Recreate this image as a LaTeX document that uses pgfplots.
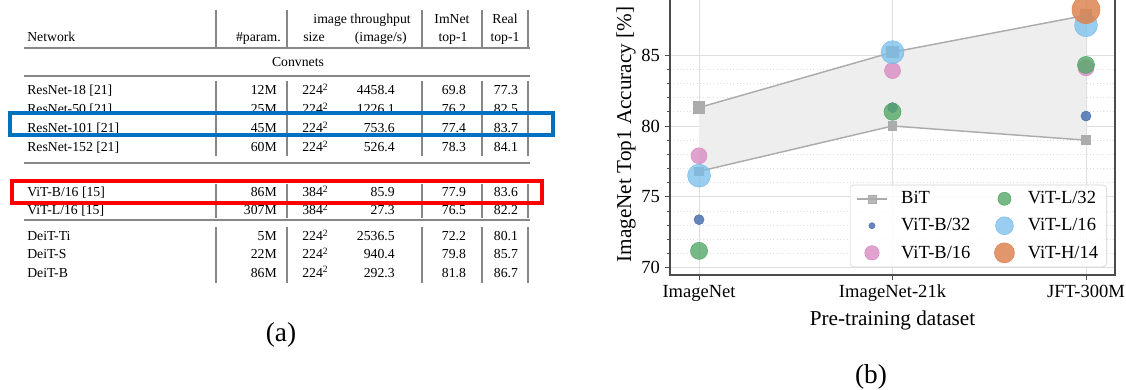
\documentclass[border=0pt]{standalone}
\usepackage{fontspec}
\setmainfont{Liberation Serif}
\usepackage{pgfplots}
\pgfplotsset{compat=1.18}

\definecolor{bitgray}{RGB}{172,172,172}
\definecolor{bitfill}{RGB}{238,238,238}
\definecolor{vitb32}{RGB}{76,114,176}
\definecolor{vitb16}{RGB}{218,139,195}
\definecolor{vitl32}{RGB}{85,168,104}
\definecolor{vitl16}{RGB}{120,190,235}
\definecolor{vith14}{RGB}{221,132,82}
\definecolor{rulegray}{RGB}{135,135,135}
\definecolor{boxblue}{RGB}{0,112,192}
\definecolor{boxred}{RGB}{255,0,0}

% legend symbol for the BiT range: a longer line with a square in the middle
\pgfplotsset{bitlegend/.style={legend image code/.code={%
  \draw[bitgray, line width=1.1pt, sharp corners] (-0.1cm,0cm) -- (0.7cm,0cm);
  \fill[bitgray, sharp corners] (0.3cm,0cm) ++(-3pt,-3pt) rectangle ++(6pt,6pt);}}}

% one body row of the comparison table
\newcommand\tabrow[7]{%
  \node[anchor=base west] at (27,#1) {#2};
  \node[anchor=base east] at (277,#1) {#3};
  \node[anchor=base west] at (302,#1) {#4\textsuperscript{2}};
  \node[anchor=base east] at (395,#1) {#5};
  \node[anchor=base] at (454,#1) {#6};
  \node[anchor=base] at (506,#1) {#7};}

\begin{document}
\begin{tikzpicture}[x=0.75pt,y=0.75pt]
\useasboundingbox (0,0) rectangle (1126,389);
\clip (0,0) rectangle (1126,389);

% ---------- (a) table, y counted downwards from the top edge ----------
\begin{scope}[yshift=291.75pt, y=-0.75pt,
  every node/.style={inner sep=0pt, font=\fontsize{10.3}{11.5}\selectfont}]
  % header
  \node[anchor=base east] at (411,24) {image throughput};
  \node[anchor=base] at (452,24) {ImNet};
  \node[anchor=base] at (505,24) {Real};
  \node[anchor=base west] at (27,42) {Network};
  \node[anchor=base east] at (281,42) {\#param.};
  \node[anchor=base] at (314,42) {size};
  \node[anchor=base east] at (407,42) {(image/s)};
  \node[anchor=base] at (453,42) {top-1};
  \node[anchor=base] at (505,42) {top-1};
  \node[anchor=base] at (298,67) {Convnets};
  % body
  \tabrow{95}{ResNet-18 [21]}{12M}{224}{4458.4}{69.8}{77.3}
  \tabrow{114}{ResNet-50 [21]}{25M}{224}{1226.1}{76.2}{82.5}
  \tabrow{133}{ResNet-101 [21]}{45M}{224}{753.6}{77.4}{83.7}
  \tabrow{152}{ResNet-152 [21]}{60M}{224}{526.4}{78.3}{84.1}
  \tabrow{197}{ViT-B/16 [15]}{86M}{384}{85.9}{77.9}{83.6}
  \tabrow{215}{ViT-L/16 [15]}{307M}{384}{27.3}{76.5}{82.2}
  \tabrow{241}{DeiT-Ti}{5M}{224}{2536.5}{72.2}{80.1}
  \tabrow{259}{DeiT-S}{22M}{224}{940.4}{79.8}{85.7}
  \tabrow{277}{DeiT-B}{86M}{224}{292.3}{81.8}{86.7}
  % rules
  \foreach \yy in {48,76,163,220}
    \draw[rulegray, line width=1.1pt] (24,\yy) -- (530,\yy);
  \foreach \xx in {216,287,422,482,528} {
    \draw[rulegray, line width=0.8pt] (\xx,10) -- (\xx,47);
    \draw[rulegray, line width=0.8pt] (\xx,81) -- (\xx,156);
    \draw[rulegray, line width=0.8pt] (\xx,184) -- (\xx,218);
    \draw[rulegray, line width=0.8pt] (\xx,227) -- (\xx,283);
  }
  % highlighted rows
  \draw[boxblue, line width=2.3pt] (10,113) rectangle (553,135);
  \draw[boxred, line width=2.6pt] (12,181) rectangle (542,203);
  \node[font=\fontsize{20.5}{22}\selectfont] at (281,335) {(a)};
  \node[font=\fontsize{20.5}{22}\selectfont] at (871,377) {(b)};
\end{scope}

% ---------- (b) accuracy versus pre-training dataset ----------
\begin{axis}[
  at={(502.5pt,85.5pt)}, anchor=south west,
  scale only axis, width=333.75pt, height=210.75pt,
  xmin=-0.15, xmax=2.15, ymin=69.5, ymax=89.3,
  xtick={0,1,2}, xticklabels={ImageNet,ImageNet-21k,JFT-300M},
  ytick={70,75,80,85}, minor y tick num=4,
  grid=both,
  major grid style={black!13, line width=0.7pt},
  minor grid style={black!13, line width=0.5pt, dotted},
  axis line style={black!70, line width=0.9pt},
  tick style={black!70, line width=0.7pt},
  tick align=outside, tick pos=left,
  major tick length=4pt, minor tick length=2.5pt,
  /pgf/number format/assume math mode=true,
  tick label style={font=\fontsize{13.9}{15}\selectfont},
  label style={font=\fontsize{15.9}{17}\selectfont},
  xlabel={Pre-training dataset},
  ylabel={ImageNet Top1 Accuracy [\%]},
  xlabel style={at={(axis description cs:0.5,-0.16)}, anchor=center},
  ylabel style={at={(axis description cs:-0.099,0.5)}, anchor=center},
  legend columns=2, legend cell align=left,
  legend style={at={(0.982,0.028)}, anchor=south east,
    draw=black!18, rounded corners=3pt, fill=white, fill opacity=0.85, text opacity=1,
    font=\fontsize{13.9}{15}\selectfont, row sep=5.5pt, inner xsep=4.5pt, inner ysep=3pt,
    /tikz/every odd column/.append style={column sep=8pt},
    /tikz/every even column/.append style={column sep=16pt}},
]
% BiT range between the weakest and the strongest model
\addplot[draw=none, fill=bitfill, forget plot]
  coordinates {(0,81.3) (1,85.2) (2,87.8) (2,79.0) (1,80.0) (0,76.8)};
\addplot[bitgray, line width=1.1pt, mark=square*, mark size=4pt,
  mark options={draw=none, fill=bitgray}, forget plot]
  coordinates {(0,81.3) (1,85.2) (2,87.8)};
\addplot[bitgray, line width=1.1pt, mark=square*, mark size=3pt,
  mark options={draw=none, fill=bitgray}, forget plot]
  coordinates {(0,76.8) (1,80.0) (2,79.0)};
% ViT models
\addplot[only marks, mark=*, mark size=3.75pt, color=vitb32,
  mark options={draw=none, fill opacity=0.85}, forget plot]
  coordinates {(0,73.4) (1,81.3) (2,80.7)};
\addplot[only marks, mark=*, mark size=6pt, color=vitb16,
  mark options={draw=none, fill opacity=0.8}, forget plot]
  coordinates {(0,77.9) (1,83.9) (2,84.1)};
\addplot[only marks, mark=*, mark size=6.4pt, color=vitl32,
  mark options={draw=none, fill opacity=0.8}, forget plot]
  coordinates {(0,71.2) (1,81.0) (2,84.3)};
\addplot[only marks, mark=*, mark size=8.6pt, color=vitl16,
  mark options={draw=none, fill opacity=0.75}, forget plot]
  coordinates {(0,76.5) (1,85.2) (2,87.1)};
\addplot[only marks, mark=*, mark size=10.5pt, color=vith14,
  mark options={draw=none, fill opacity=0.85}, forget plot]
  coordinates {(2,88.2)};
% legend, two columns
\addlegendimage{bitlegend}
\addlegendentry{BiT}
\addlegendimage{only marks, mark=*, mark size=4.9pt, vitl32, mark options={draw=none, fill opacity=0.8}}
\addlegendentry{ViT-L/32}
\addlegendimage{only marks, mark=*, mark size=2.3pt, vitb32, mark options={draw=none, fill opacity=0.85}}
\addlegendentry{ViT-B/32}
\addlegendimage{only marks, mark=*, mark size=6.7pt, vitl16, mark options={draw=none, fill opacity=0.75}}
\addlegendentry{ViT-L/16}
\addlegendimage{only marks, mark=*, mark size=5.4pt, vitb16, mark options={draw=none, fill opacity=0.8}}
\addlegendentry{ViT-B/16}
\addlegendimage{only marks, mark=*, mark size=7.5pt, vith14, mark options={draw=none, fill opacity=0.85}}
\addlegendentry{ViT-H/14}
\end{axis}
\end{tikzpicture}
\end{document}
